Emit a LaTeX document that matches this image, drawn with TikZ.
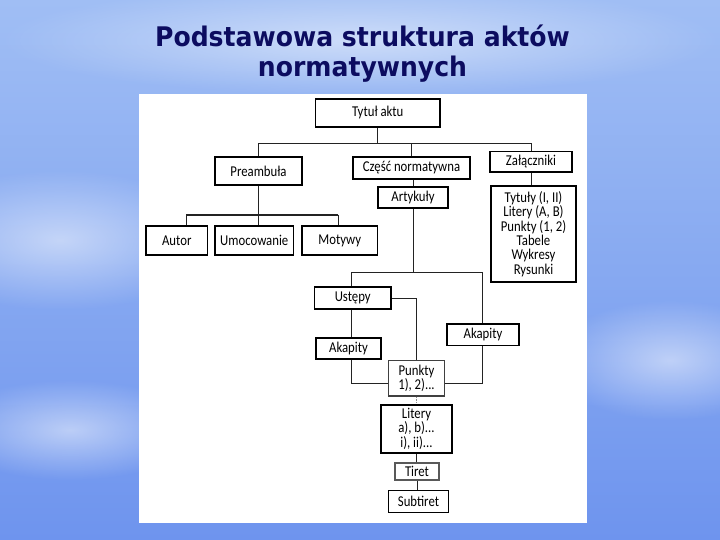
\documentclass[tikz,border=0pt]{standalone}
\usepackage{fontspec}
\usetikzlibrary{fadings}
\newfontfamily\boxfont[FakeStretch=0.85]{Carlito}
\newfontfamily\titlefont[FakeStretch=0.93]{DejaVu Sans}
\definecolor{skytop}{RGB}{160,190,244}
\definecolor{skybot}{RGB}{110,148,238}
\definecolor{titleblue}{RGB}{12,12,96}
\definecolor{lineink}{RGB}{35,35,35}
\tikzfading[name=softglow, inner color=transparent!50, outer color=transparent!100]
\tikzset{
  box/.style={draw=black, line width=1.2pt, fill=white, inner sep=0pt, align=center,
    font=\boxfont\fontsize{15}{14.4}\selectfont, anchor=center},
  conn/.style={draw=lineink, line width=0.9pt},
  heading/.style={text=titleblue, font=\titlefont\bfseries\fontsize{27}{30}\selectfont, anchor=base, inner sep=0pt}
}
\begin{document}
\begin{tikzpicture}[x=1pt,y=-1pt]
\useasboundingbox (0,0) rectangle (720,540);
% background sky
\shade[top color=skytop, bottom color=skybot] (0,0) rectangle (720,540);
\fill[white, path fading=softglow] (60,240) ellipse (160 and 70);
\fill[white, path fading=softglow] (360,40) ellipse (360 and 55);
\fill[white, path fading=softglow] (670,360) ellipse (120 and 60);
\fill[white, path fading=softglow] (70,430) ellipse (130 and 50);
% title
\node[heading] (title1) at (362.5,46.5) {Podstawowa struktura aktów};
\node[heading] (title2) at (362.5,76.5) {normatywnych};
% panel
\fill[white] (139,94) rectangle (587,523);
% boxes
\node[box, minimum width=124.5pt, minimum height=28pt] (tytul) at (377.75,113) {Tytuł aktu};
\node[box, minimum width=87pt, minimum height=28pt] (pre) at (258.5,171) {Preambuła};
\node[box, minimum width=117pt, minimum height=22pt] (czesc) at (411.5,168) {Część normatywna};
\node[box, minimum width=82pt, minimum height=20.5pt] (zal) at (531,161.75) {Załączniki};
\node[box, minimum width=70pt, minimum height=21pt] (art) at (413,197.5) {Artykuły};
\node[box, minimum width=85pt, minimum height=96pt] (list) at (533.5,234) {Tytuły (I, II)\\Litery (A, B)\\Punkty (1, 2)\\Tabele\\Wykresy\\Rysunki};
\node[box, minimum width=61.5pt, minimum height=29pt] (autor) at (176.75,240.5) {Autor};
\node[box, minimum width=78.5pt, minimum height=29pt] (umoc) at (254.25,240.5) {Umocowanie};
\node[box, minimum width=75.5pt, minimum height=29pt] (motywy) at (339.75,240.5) {Motywy};
\node[box, minimum width=76.5pt, minimum height=22pt] (ustepy) at (352.75,298) {Ustępy};
\node[box, minimum width=65pt, minimum height=21pt] (akl) at (348.5,348.5) {Akapity};
\node[box, minimum width=72pt, minimum height=21.5pt] (akr) at (483,334.75) {Akapity};
\node[box, minimum width=56pt, minimum height=35.4pt, draw=black!75] (punkty) at (416.5,378.3) {Punkty\\1), 2)...};
\node[box, minimum width=71pt, minimum height=48.3pt, line width=2pt] (litery) at (416.5,428.85) {Litery\\a), b)...\\i), ii)...};
\node[box, minimum width=44pt, minimum height=17pt, draw=black!65] (tiret) at (417,471.5) {Tiret};
\node[box, minimum width=60pt, minimum height=22pt] (subt) at (418.5,501.5) {Subtiret};
% junctions
\coordinate (jL) at (258.5,143);
\coordinate (jR) at (531,143);
\coordinate (jA) at (186,215);
\coordinate (jM) at (338,215);
\coordinate (jU) at (351,272);
\coordinate (jK) at (482,272);
\coordinate (jP) at (351,383.7);
\coordinate (jQ) at (482,383.7);
% connectors
\draw[conn] (tytul.south) -- (tytul.south |- jL);
\draw[conn] (pre.north) -- (jL) -- (jR) -- (zal.north);
\draw[conn] (czesc.north) -- (czesc.north |- jL);
\draw[conn] (art.north) -- (art.north |- czesc.south);
\draw[conn] (zal.south) -- (zal.south |- list.north);
\draw[conn] (pre.south) -- (pre.south |- jA);
\draw[conn, line width=1.8pt] (jA) -- (jM);
\draw[conn] (jA) -- (jA |- autor.north);
\draw[conn] (pre.south |- jA) -- (pre.south |- umoc.north);
\draw[conn] (jM) -- (jM |- motywy.north);
\draw[conn] (art.south) -- (art.south |- jU);
\draw[conn] (jU |- ustepy.north) -- (jU) -- (jK) -- (jK |- akr.north);
\draw[conn] (jU |- ustepy.south) -- (jU |- akl.north);
\draw[conn] (jU |- akl.south) -- (jP) -- (jP -| punkty.west);
\draw[conn] (jQ |- akr.south) -- (jQ) -- (jQ -| punkty.east);
\draw[conn] (ustepy.east) -| (punkty.north);
\draw[conn, draw=black!45, densely dotted] (punkty.south) -- (punkty.south |- litery.north);
\draw[conn] (litery.south) -- (litery.south |- tiret.north);
\draw[conn] (tiret.south) -- (tiret.south |- subt.north);
\end{tikzpicture}
\end{document}
